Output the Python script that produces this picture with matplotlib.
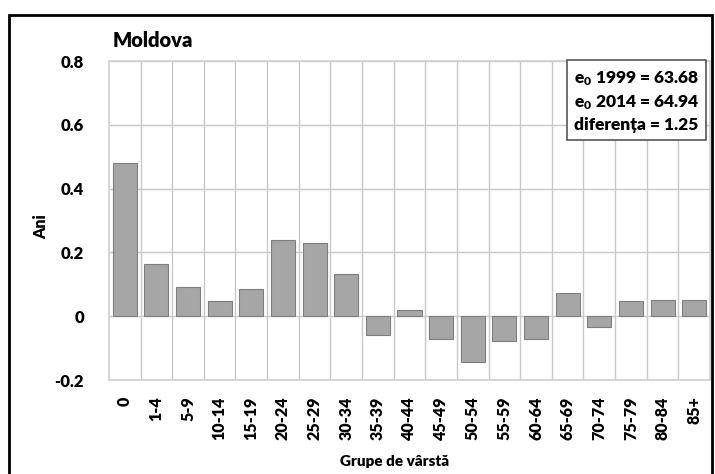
import numpy as np
import matplotlib.pyplot as plt
from matplotlib.patches import Rectangle

plt.rcParams['font.family'] = ['Lato', 'DejaVu Sans']
plt.rcParams['font.weight'] = 'heavy'
plt.rcParams['mathtext.fontset'] = 'custom'
plt.rcParams['mathtext.rm'] = 'Lato:heavy'
plt.rcParams['mathtext.default'] = 'rm'

groups = ['0', '1-4', '5-9', '10-14', '15-19', '20-24', '25-29', '30-34', '35-39',
          '40-44', '45-49', '50-54', '55-59', '60-64', '65-69', '70-74', '75-79',
          '80-84', '85+']
values = [0.48, 0.165, 0.091, 0.047, 0.084, 0.239, 0.228, 0.131, -0.058,
          0.018, -0.070, -0.142, -0.079, -0.071, 0.074, -0.033, 0.047,
          0.050, 0.050]
yticks = [-0.2, 0, 0.2, 0.4, 0.6, 0.8]
ytick_labels = ['-0.2', '0', '0.2', '0.4', '0.6', '0.8']
box_text = 'e$_0$ 1999 = 63.68\ne$_0$ 2014 = 64.94\ndiferența = 1.25'

fig = plt.figure(figsize=(7.15, 4.74), dpi=100)
ax = fig.add_axes([0.1524, 0.1983, 0.8406, 0.673])

x = np.arange(len(groups))
ax.bar(x, values, width=0.76, color='#a6a6a6', edgecolor='#7f7f7f', linewidth=0.8, zorder=3)

ax.set_xlim(-0.5, len(groups) - 0.5)
ax.set_ylim(-0.2, 0.8)
ax.set_yticks(yticks)
ax.set_yticklabels(ytick_labels, fontsize=12, fontweight='heavy')
ax.set_xticks(x)
ax.set_xticklabels(groups, rotation=90, fontsize=11.5, fontweight='heavy')
ax.set_xticks(np.arange(0.5, len(groups) - 0.5), minor=True)
ax.tick_params(axis='both', which='both', length=0)
ax.tick_params(axis='y', pad=18)
ax.tick_params(axis='x', pad=12)

ax.grid(True, axis='y', which='major', color='#c8c8c8', linewidth=1, zorder=0)
ax.grid(True, axis='x', which='minor', color='#c8c8c8', linewidth=1, zorder=0)
for sp in ax.spines.values():
    sp.set_color('#d0d0d0')
    sp.set_linewidth(1.2)

ax.set_xlabel('Grupe de vârstă', fontsize=11, fontweight='heavy')
ax.xaxis.set_label_coords(0.475, -0.235)
ax.set_ylabel('Ani', fontsize=11.5, fontweight='heavy')
ax.yaxis.set_label_coords(-0.1, 0.48)

fig.text(0.158, 0.915, 'Moldova', fontsize=14.5, fontweight='heavy', va='center', ha='left')

ax.text(0.982, 0.975, box_text, transform=ax.transAxes, ha='right', va='top',
        multialignment='left', fontsize=12.5, fontweight='heavy', linespacing=1.4, zorder=5,
        bbox=dict(boxstyle='square,pad=0.4', facecolor='white', edgecolor='#555555', linewidth=1.2))

fig.patches.append(Rectangle((0.012, -0.1), 0.984, 1.068, transform=fig.transFigure,
                             fill=False, edgecolor='black', linewidth=2))

fig.savefig('out.png', dpi=100)
